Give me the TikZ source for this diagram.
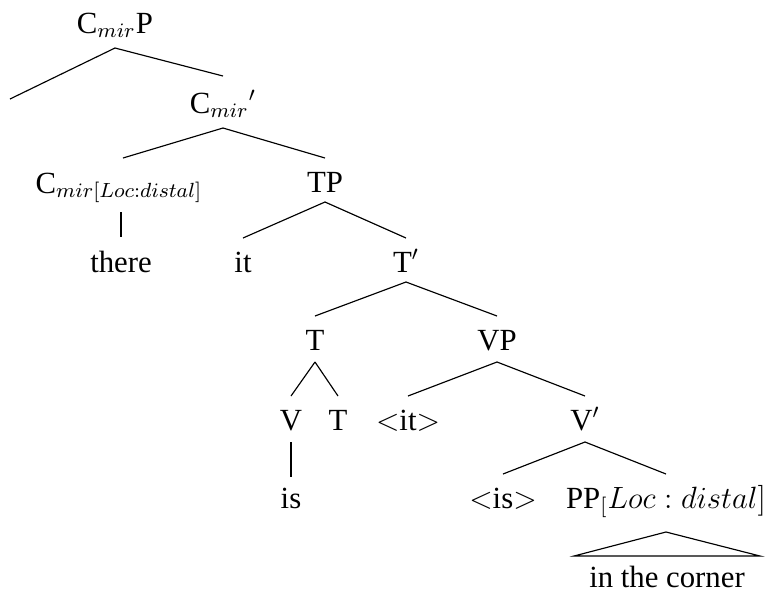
\documentclass[tikz,border=0pt]{standalone}
\usepackage{fontspec}
\setmainfont{Liberation Serif}
\usetikzlibrary{calc}
\newcommand\tedge[3][12]{\draw ($(#2.base)+(0,#1)$) -- ($(#3.base)+(0,-34)$);}
\begin{document}
\begin{tikzpicture}[x=0.39pt,y=-0.39pt,
  lbl/.style={anchor=base,inner sep=0pt,font=\fontsize{12}{14}\selectfont},
  every path/.style={line width=0.45pt}]
\useasboundingbox (0,0) rectangle (770,592);
% level 1
\node[lbl] (cmirp) at (115,33) {C$_{mir}$P};
\coordinate (empty) at (10,99);
% level 2
\node[lbl] (cmirbar) at (223,113) {C$_{mir}{}'$};
% level 3
\node[lbl] (cmir) at (119,193) {C$_{mir[Loc:distal]}$};
\node[lbl] (tp) at (325,192) {TP};
% level 4
\node[lbl] (there) at (121,272) {there};
\node[lbl] (it) at (243,272) {it};
\node[lbl] (tbar) at (406,272) {T$'$};
% level 5
\node[lbl] (t) at (315,350) {T};
\node[lbl] (vp) at (497,350) {VP};
% level 6
\node[lbl] (v) at (291,430) {V};
\node[lbl] (t2) at (338,430) {T};
\node[lbl] (itt) at (408,430) {$<$it$>$};
\node[lbl] (vbar) at (585,430) {V$'$};
% level 7
\node[lbl] (is) at (291,508) {is};
\node[lbl] (iss) at (503,508) {$<$is$>$};
\node[lbl] (pp) at (666,508) {PP$_[Loc : distal]$};
% level 8
\node[lbl] (corner) at (667,587) {in the corner};
% edges
\draw ($(cmirp.base)+(0,15)$) -- (empty);
\draw ($(cmirp.base)+(0,15)$) -- ($(cmirbar.base)+(0,-37)$);
\draw ($(cmirbar.base)+(0,15)$) -- ($(cmir.base)+(4,-35)$);
\tedge[15]{cmirbar}{tp}
\draw ($(cmir.base)+(2,19)$) -- ($(there.base)+(0,-35)$);
\tedge[10]{tp}{it}
\tedge[10]{tp}{tbar}
\tedge[10]{tbar}{t}
\tedge[10]{tbar}{vp}
\tedge{t}{v}
\tedge{t}{t2}
\tedge{vp}{itt}
\tedge{vp}{vbar}
\draw ($(v.base)+(0,12)$) -- ($(is.base)+(0,-31)$);
\tedge{vbar}{iss}
\tedge{vbar}{pp}
\draw ($(pp.base)+(0,24)$) -- ($(corner.base)+(-93,-31)$) -- ($(corner.base)+(93,-31)$) -- cycle;
\end{tikzpicture}
\end{document}
